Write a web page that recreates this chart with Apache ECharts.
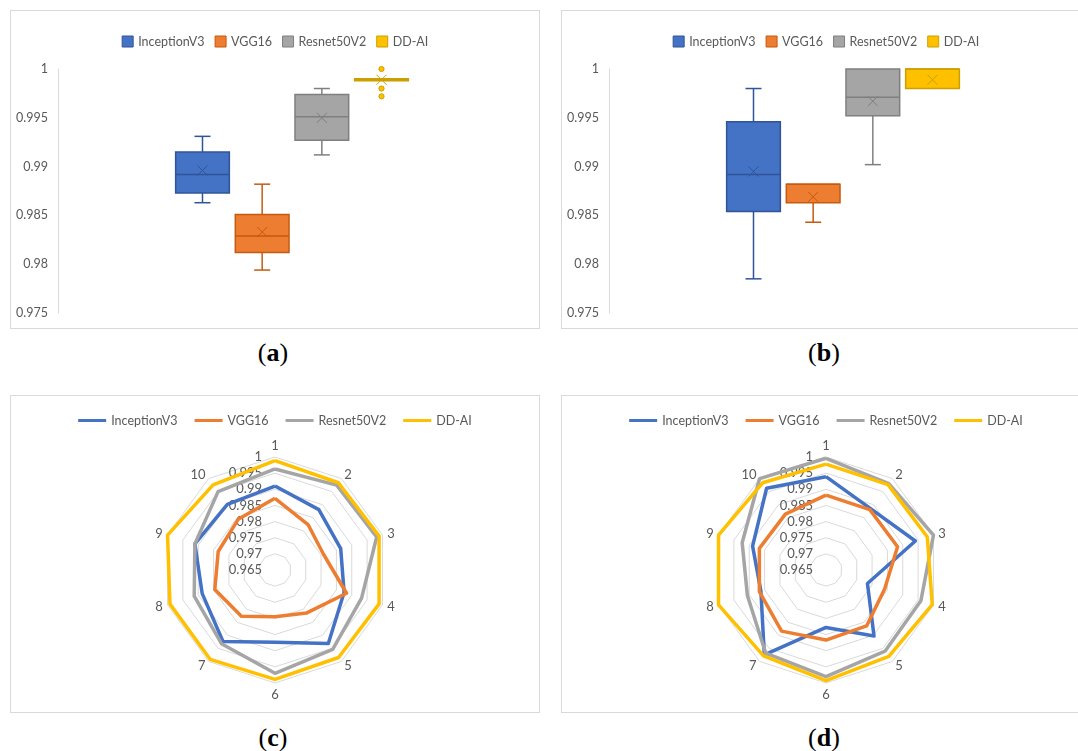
<!DOCTYPE html>
<html>
<head>
<meta charset="utf-8">
<script src="https://cdn.jsdelivr.net/npm/echarts@6/dist/echarts.min.js"></script>
<style>
  html, body { margin: 0; padding: 0; background: #ffffff; }
  body { width: 1078px; height: 751px; position: relative; overflow: hidden; }
  .panel { position: absolute; box-sizing: border-box; border: 1px solid #D9D9D9; background: #fff; }
  .cap { position: absolute; width: 120px; text-align: center; font-family: "Liberation Serif", "DejaVu Serif", serif;
         font-size: 26px; line-height: 30px; color: #000; }
  .cap b { font-weight: bold; }
</style>
</head>
<body>
<div class="panel" id="pa" style="left:10px; top:10px; width:530px; height:319px;"></div>
<div class="panel" id="pb" style="left:561px; top:10px; width:530px; height:319px;"></div>
<div class="panel" id="pc" style="left:10px; top:395px; width:530px; height:318px;"></div>
<div class="panel" id="pd" style="left:561px; top:395px; width:530px; height:318px;"></div>
<div class="cap" style="left:213px; top:338px;">(<b>a</b>)</div>
<div class="cap" style="left:764px; top:338px;">(<b>b</b>)</div>
<div class="cap" style="left:213px; top:723px;">(<b>c</b>)</div>
<div class="cap" style="left:764px; top:723px;">(<b>d</b>)</div>
<script>
// ---- data ----
const models = ['InceptionV3', 'VGG16', 'Resnet50V2', 'DD-AI'];

// box statistics per model: [min, Q1, median, Q3, max]
const boxStatsA = [
  [0.9863, 0.9873, 0.9892, 0.9915, 0.9931],
  [0.9794, 0.9812, 0.9829, 0.9851, 0.9882],
  [0.9912, 0.9927, 0.9951, 0.9974, 0.9980],
  [0.9988, 0.9988, 0.9989, 0.9990, 0.9990]
];
const meansA = [0.9896, 0.9833, 0.9950, 0.9989];
const outliersA = [[], [], [], [1.0, 0.9980, 0.9972]];

const boxStatsB = [
  [0.9785, 0.9854, 0.9892, 0.9946, 0.9980],
  [0.9843, 0.9863, 0.9882, 0.9882, 0.9882],
  [0.9902, 0.9952, 0.9971, 1.0000, 1.0000],
  [0.9980, 0.9980, 1.0000, 1.0000, 1.0000]
];
const meansB = [0.9895, 0.9869, 0.9967, 0.9989];
const outliersB = [[], [], [], []];

const yTicks = { min: 0.975, max: 1, interval: 0.005 };

// radar axes 1..10
const radarAxes = ['1', '2', '3', '4', '5', '6', '7', '8', '9', '10'];
const radarRange = { min: 0.965, max: 1, splitNumber: 7 };

const radarC_InceptionV3 = [0.9910, 0.9881, 0.9864, 0.9875, 0.9931, 0.9874, 0.9924, 0.9887, 0.9911, 0.9901];
const radarC_VGG16       = [0.9872, 0.9824, 0.9808, 0.9883, 0.9815, 0.9795, 0.9827, 0.9846, 0.9835, 0.9844];
const radarC_Resnet50V2  = [0.9963, 0.9975, 0.9981, 0.9932, 0.9954, 0.9970, 0.9932, 0.9913, 0.9911, 0.9950];
const radarC_DDAI        = [0.9989, 0.9984, 0.9989, 0.9989, 0.9985, 0.9989, 0.9992, 0.9992, 1.0000, 0.9976];

const radarD_InceptionV3 = [0.9939, 0.9885, 0.9941, 0.9785, 0.9903, 0.9828, 0.9975, 0.9862, 0.9889, 0.9963];
const radarD_VGG16       = [0.9882, 0.9881, 0.9883, 0.9841, 0.9864, 0.9867, 0.9884, 0.9867, 0.9867, 0.9864];
const radarD_Resnet50V2  = [0.9996, 0.9981, 1.0000, 0.9959, 0.9961, 0.9980, 0.9968, 0.9906, 0.9923, 1.0000];
const radarD_DDAI        = [0.9978, 0.9977, 0.9980, 0.9996, 0.9981, 0.9993, 0.9979, 1.0000, 1.0000, 0.9984];

// ---- styling ----
const fills   = ['#4472C4', '#ED7D31', '#A5A5A5', '#FFC000'];
const strokes = ['#2F5597', '#C55A11', '#7F7F7F', '#C9A000'];
const FONT = 'Lato';
const FS = 12.5;
const TEXT = '#595959';
const fmt = v => String(+(+v).toFixed(4));

// Excel-like box & whisker drawn per series, side by side in one category band
function makeBoxRenderer(outliers) {
  return function (params, api) {
    const i = params.seriesIndex;
    const band = api.size([1, 0])[0];
    const slot = band * 0.1275;
    const half = slot * 0.45;
    const cx = api.coord([api.value(0), 0])[0] + (i - 1.5) * slot;
    const y = k => api.coord([api.value(0), api.value(k)])[1];
    const yMin = y(1), yQ1 = y(2), yMed = y(3), yQ3 = y(4), yMax = y(5), yMean = y(6);
    const stroke = strokes[i];
    const capHalf = 8;
    const ln = (x1, y1, x2, y2, w) => ({
      type: 'line', shape: { x1, y1, x2, y2 },
      style: { stroke, lineWidth: w || 1.5 }
    });
    const kids = [];
    if (yQ3 - yMax > 0.5) {
      kids.push(ln(cx, yMax, cx, yQ3), ln(cx - capHalf, yMax, cx + capHalf, yMax));
    }
    if (yMin - yQ1 > 0.5) {
      kids.push(ln(cx, yQ1, cx, yMin), ln(cx - capHalf, yMin, cx + capHalf, yMin));
    }
    kids.push({
      type: 'rect',
      shape: { x: cx - half, y: yQ3, width: half * 2, height: Math.max(yQ1 - yQ3, 1) },
      style: { fill: fills[i], stroke, lineWidth: 1.5 }
    });
    kids.push(ln(cx - half, yMed, cx + half, yMed, 1.5));
    const m = 5;
    kids.push(ln(cx - m, yMean - m, cx + m, yMean + m, 1), ln(cx - m, yMean + m, cx + m, yMean - m, 1));
    (outliers[i] || []).forEach(v => {
      const oy = api.coord([api.value(0), v])[1];
      kids.push({
        type: 'circle', shape: { cx, cy: oy, r: 2.6 },
        style: { fill: fills[i], stroke, lineWidth: 1 }
      });
    });
    return { type: 'group', children: kids };
  };
}

function boxOption(stats, means, outliers) {
  return {
    animation: false,
    legend: {
      top: 19, left: 'center', itemWidth: 11, itemHeight: 11, itemGap: 10,
      textStyle: { color: TEXT, fontSize: FS, fontFamily: FONT },
      data: models.map((m, i) => ({
        name: m, icon: 'rect',
        itemStyle: { color: fills[i], borderColor: strokes[i], borderWidth: 1 }
      }))
    },
    grid: { left: 47, right: 13, top: 58, bottom: 15 },
    xAxis: { type: 'category', data: [''], show: false },
    yAxis: {
      type: 'value', min: yTicks.min, max: yTicks.max, interval: yTicks.interval,
      axisLine: { show: true, lineStyle: { color: '#D9D9D9', width: 1 } },
      axisTick: { show: false }, splitLine: { show: false },
      axisLabel: { color: TEXT, fontSize: FS, fontFamily: FONT, margin: 10, formatter: fmt }
    },
    series: models.map((m, i) => ({
      type: 'custom', name: m, clip: false,
      itemStyle: { color: fills[i] },
      renderItem: makeBoxRenderer(outliers),
      encode: { x: 0, y: [1, 2, 3, 4, 5, 6] },
      data: [[0].concat(stats[i], [means[i]])]
    }))
  };
}

// radar indicators run counter-clockwise in ECharts; reorder so 1..10 go clockwise
const clockOrder = [0, 9, 8, 7, 6, 5, 4, 3, 2, 1];

function radarOption(seriesValues) {
  return {
    animation: false,
    legend: {
      top: 13, left: 'center', itemWidth: 28, itemHeight: 3, itemGap: 17,
      textStyle: { color: TEXT, fontSize: FS, fontFamily: FONT },
      data: models.map((m, i) => ({ name: m, icon: 'rect', itemStyle: { color: fills[i] } }))
    },
    radar: {
      center: [264, 174], radius: 113, startAngle: 90, shape: 'polygon',
      splitNumber: radarRange.splitNumber,
      indicator: clockOrder.map((k, j) => {
        const ind = { name: radarAxes[k], min: radarRange.min, max: radarRange.max };
        if (j === 0) ind.axisLabel = { show: true };
        return ind;
      }),
      axisName: { color: TEXT, fontSize: 13, fontFamily: FONT },
      nameGap: 5,
      axisLine: { show: false },
      axisTick: { show: false },
      axisLabel: { show: false, color: TEXT, fontSize: 13, fontFamily: FONT, margin: 13, formatter: fmt },
      splitLine: { lineStyle: { color: '#D9D9D9', width: 1 } },
      splitArea: { show: false }
    },
    series: [{
      type: 'radar', symbol: 'none',
      data: models.map((m, i) => ({
        name: m,
        value: clockOrder.map(k => seriesValues[i][k]),
        lineStyle: { color: fills[i], width: 3.5, join: 'round' },
        itemStyle: { color: fills[i] }
      }))
    }]
  };
}

echarts.init(document.getElementById('pa'), null, { renderer: 'canvas' })
  .setOption(boxOption(boxStatsA, meansA, outliersA));
echarts.init(document.getElementById('pb'), null, { renderer: 'canvas' })
  .setOption(boxOption(boxStatsB, meansB, outliersB));
echarts.init(document.getElementById('pc'), null, { renderer: 'canvas' })
  .setOption(radarOption([radarC_InceptionV3, radarC_VGG16, radarC_Resnet50V2, radarC_DDAI]));
echarts.init(document.getElementById('pd'), null, { renderer: 'canvas' })
  .setOption(radarOption([radarD_InceptionV3, radarD_VGG16, radarD_Resnet50V2, radarD_DDAI]));
</script>
</body>
</html>
